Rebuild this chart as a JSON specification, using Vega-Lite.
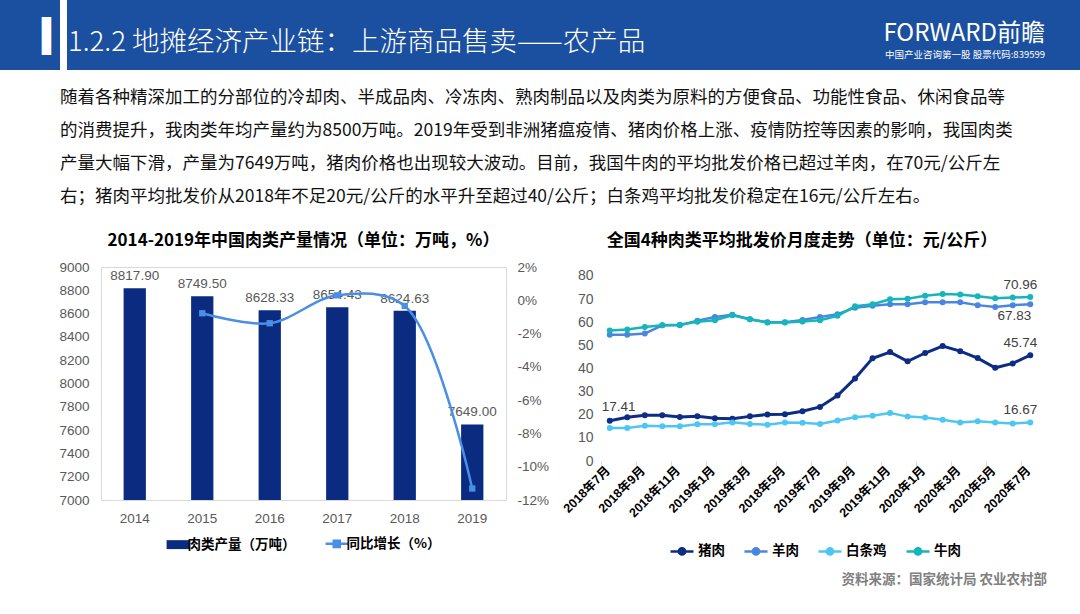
{
  "$schema": "https://vega.github.io/schema/vega-lite/v6.json",
  "padding": 0,
  "background": "white",
  "config": {"view": {"stroke": null}},
  "title": {"text": "资料来源：国家统计局 农业农村部", "orient": "bottom", "anchor": "end", "frame": "bounds", "dx": -40, "offset": 13, "font": "Noto Sans CJK SC", "fontSize": 13.5, "fontWeight": "bold", "color": "#808080"},
  "spacing": 19,
  "vconcat": [
    {
      "spacing": 0,
      "hconcat": [
        {"width": 60, "height": 70, "view": {"fill": "#1b4fa0", "stroke": null},
         "title": {"text": "▍", "anchor": "start", "frame": "group", "dx": 42, "offset": -54, "font": "DejaVu Sans", "fontSize": 32, "color": "white"},
         "data": {"values": [{}]}, "mark": {"type": "point", "opacity": 0, "size": 0}},
        {"width": 740, "height": 70, "view": {"fill": "#1b4fa0", "stroke": null},
         "title": {"text": "1.2.2 地摊经济产业链：上游商品售卖——农产品", "anchor": "start", "frame": "group", "dx": 1, "offset": -56, "font": "Noto Sans CJK SC", "fontSize": 27.5, "fontWeight": 300, "color": "white"},
         "data": {"values": [{}]}, "mark": {"type": "point", "opacity": 0, "size": 0}},
        {"width": 280, "height": 70, "view": {"fill": "#1b4fa0", "stroke": null},
         "title": {"text": "FORWARD前瞻", "subtitle": "中国产业咨询第一股 股票代码:839599", "anchor": "end", "frame": "group", "dx": -42, "offset": -59, "subtitlePadding": 4, "font": "Noto Sans CJK SC", "fontSize": 24, "fontWeight": "normal", "color": "white", "subtitleFont": "Noto Sans CJK SC", "subtitleFontSize": 9.5, "subtitleColor": "white"},
         "data": {"values": [{}]}, "mark": {"type": "point", "opacity": 0, "size": 0}}
      ]
    },
    {
      "spacing": 0,
      "title": {"text": ["随着各种精深加工的分部位的冷却肉、半成品肉、冷冻肉、熟肉制品以及肉类为原料的方便食品、功能性食品、休闲食品等", "的消费提升，我肉类年均产量约为8500万吨。2019年受到非洲猪瘟疫情、猪肉价格上涨、疫情防控等因素的影响，我国肉类", "产量大幅下滑，产量为7649万吨，猪肉价格也出现较大波动。目前，我国牛肉的平均批发价格已超过羊肉，在70元/公斤左", "右；猪肉平均批发价从2018年不足20元/公斤的水平升至超过40/公斤；白条鸡平均批发价稳定在16元/公斤左右。"], "anchor": "start", "frame": "group", "dx": 60, "offset": 26, "font": "Noto Sans CJK SC", "fontSize": 17.5, "fontWeight": "normal", "color": "#111111", "lineHeight": 33},
      "resolve": {"scale": {"color": "independent"}, "legend": {"color": "independent"}},
      "hconcat": [
        {"width": 1, "height": 1, "data": {"values": [{}]}, "mark": {"type": "point", "opacity": 0, "size": 0}},
        {
          "width": 405, "height": 233,
          "view": {"stroke": "#d9d9d9", "fill": null},
          "title": {"text": "2014-2019年中国肉类产量情况（单位：万吨，%）", "anchor": "middle", "frame": "group", "offset": 10, "font": "Noto Sans CJK SC", "fontSize": 17, "fontWeight": "bold", "color": "#000000"},
          "data": {"values": [
            {"year": "2014", "output": 8817.90},
            {"year": "2015", "output": 8749.50, "growth": -0.78},
            {"year": "2016", "output": 8628.33, "growth": -1.38},
            {"year": "2017", "output": 8654.43, "growth": 0.30},
            {"year": "2018", "output": 8624.63, "growth": -0.34},
            {"year": "2019", "output": 7649.00, "growth": -11.31}
          ]},
          "encoding": {"x": {"field": "year", "type": "ordinal", "scale": {"paddingInner": 0.67, "paddingOuter": 0.335},
            "axis": {"title": null, "labelAngle": 0, "ticks": false, "domain": false, "labelFont": "Liberation Sans", "labelFontSize": 13.5, "labelColor": "#595959", "labelPadding": 11}}},
          "layer": [
            {
              "encoding": {"y": {"field": "output", "type": "quantitative", "scale": {"domain": [7000, 9000]},
                "axis": {"title": null, "values": [7000, 7200, 7400, 7600, 7800, 8000, 8200, 8400, 8600, 8800, 9000], "format": "d", "ticks": false, "domain": false, "grid": false, "labelFont": "Liberation Sans", "labelFontSize": 13.5, "labelColor": "#595959", "labelPadding": 12, "minExtent": 99}}},
              "layer": [
                {"mark": {"type": "bar", "color": "#0a2b80"},
                 "encoding": {"y2": {"datum": 7000},
                   "color": {"datum": "肉类产量（万吨）", "scale": {"domain": ["肉类产量（万吨）", "同比增长（%）"], "range": ["#0a2b80", "#4a8ee6"]},
                     "legend": {"orient": "none", "legendX": 70, "legendY": 270, "direction": "horizontal", "columns": 2, "title": null, "padding": 0,
                       "symbolType": "M-1,-0.4H1V0.4H-1Z", "symbolSize": 500, "symbolStrokeWidth": 2,
                       "labelFont": "Noto Sans CJK SC", "labelFontSize": 13.5, "labelFontWeight": "bold", "labelColor": "#000000", "labelOffset": 3, "columnPadding": 24, "labelLimit": 300,
                       "encode": {"symbols": {"update": {
                         "shape": {"signal": "datum.value === '肉类产量（万吨）' ? 'M-1,-0.4H1V0.4H-1Z' : 'M-1,0H1M-0.27,-0.27H0.27V0.27H-0.27Z'"},
                         "fill": {"signal": "datum.value === '肉类产量（万吨）' ? '#0a2b80' : '#4a8ee6'"},
                         "stroke": {"signal": "datum.value === '肉类产量（万吨）' ? '#0a2b80' : '#4a8ee6'"},
                         "strokeWidth": {"signal": "datum.value === '肉类产量（万吨）' ? 0 : 2.5"},
                         "opacity": {"value": 1}}}}}}}},
                {"mark": {"type": "text", "dy": -12, "font": "Liberation Sans", "fontSize": 13.5, "color": "#595959"},
                 "encoding": {"text": {"field": "output", "type": "quantitative", "format": ".2f"}}}
              ]
            },
            {
              "transform": [{"filter": "isValid(datum.growth)"}],
              "encoding": {"y": {"field": "growth", "type": "quantitative", "scale": {"domain": [-12, 2]},
                "axis": {"orient": "right", "title": null, "values": [-12, -10, -8, -6, -4, -2, 0, 2], "labelExpr": "datum.value + '%'", "ticks": false, "domain": false, "grid": false, "labelFont": "Liberation Sans", "labelFontSize": 13.5, "labelColor": "#595959", "labelPadding": 11, "minExtent": 44}}},
              "layer": [
                {"mark": {"type": "line", "interpolate": "catmull-rom", "strokeWidth": 2.5},
                 "encoding": {"color": {"datum": "同比增长（%）"}}},
                {"mark": {"type": "point", "shape": "square", "filled": true, "size": 40, "opacity": 1},
                 "encoding": {"color": {"datum": "同比增长（%）"}}}
              ]
            }
          ],
          "resolve": {"scale": {"y": "independent"}}
        },
        {
          "width": 438, "height": 194,
          "title": {"text": "全国4种肉类平均批发价月度走势（单位：元/公斤）", "anchor": "middle", "frame": "group", "dx": -18, "offset": 17, "font": "Noto Sans CJK SC", "fontSize": 17, "fontWeight": "bold", "color": "#000000"},
          "data": {"values": [
            {"m": "2018年7月", "s": "猪肉", "v": 17.41}, {"m": "2018年8月", "s": "猪肉", "v": 18.9}, {"m": "2018年9月", "s": "猪肉", "v": 19.8}, {"m": "2018年10月", "s": "猪肉", "v": 19.8}, {"m": "2018年11月", "s": "猪肉", "v": 19.0},
            {"m": "2018年12月", "s": "猪肉", "v": 19.3}, {"m": "2019年1月", "s": "猪肉", "v": 18.5}, {"m": "2019年2月", "s": "猪肉", "v": 18.3}, {"m": "2019年3月", "s": "猪肉", "v": 19.3}, {"m": "2019年4月", "s": "猪肉", "v": 20.1},
            {"m": "2019年5月", "s": "猪肉", "v": 20.2}, {"m": "2019年6月", "s": "猪肉", "v": 21.5}, {"m": "2019年7月", "s": "猪肉", "v": 23.4}, {"m": "2019年8月", "s": "猪肉", "v": 28.3}, {"m": "2019年9月", "s": "猪肉", "v": 35.7},
            {"m": "2019年10月", "s": "猪肉", "v": 44.4}, {"m": "2019年11月", "s": "猪肉", "v": 47.1}, {"m": "2019年12月", "s": "猪肉", "v": 43.1}, {"m": "2020年1月", "s": "猪肉", "v": 46.7}, {"m": "2020年2月", "s": "猪肉", "v": 49.7},
            {"m": "2020年3月", "s": "猪肉", "v": 47.5}, {"m": "2020年4月", "s": "猪肉", "v": 44.5}, {"m": "2020年5月", "s": "猪肉", "v": 40.3}, {"m": "2020年6月", "s": "猪肉", "v": 42.2}, {"m": "2020年7月", "s": "猪肉", "v": 45.74},
            {"m": "2018年7月", "s": "羊肉", "v": 54.6}, {"m": "2018年8月", "s": "羊肉", "v": 54.6}, {"m": "2018年9月", "s": "羊肉", "v": 55.1}, {"m": "2018年10月", "s": "羊肉", "v": 58.7}, {"m": "2018年11月", "s": "羊肉", "v": 58.7},
            {"m": "2018年12月", "s": "羊肉", "v": 60.7}, {"m": "2019年1月", "s": "羊肉", "v": 62.3}, {"m": "2019年2月", "s": "羊肉", "v": 63.2}, {"m": "2019年3月", "s": "羊肉", "v": 61.3}, {"m": "2019年4月", "s": "羊肉", "v": 60.0},
            {"m": "2019年5月", "s": "羊肉", "v": 60.0}, {"m": "2019年6月", "s": "羊肉", "v": 61.0}, {"m": "2019年7月", "s": "羊肉", "v": 62.3}, {"m": "2019年8月", "s": "羊肉", "v": 63.5}, {"m": "2019年9月", "s": "羊肉", "v": 66.3},
            {"m": "2019年10月", "s": "羊肉", "v": 67.1}, {"m": "2019年11月", "s": "羊肉", "v": 67.8}, {"m": "2019年12月", "s": "羊肉", "v": 67.8}, {"m": "2020年1月", "s": "羊肉", "v": 68.6}, {"m": "2020年2月", "s": "羊肉", "v": 68.6},
            {"m": "2020年3月", "s": "羊肉", "v": 68.6}, {"m": "2020年4月", "s": "羊肉", "v": 67.4}, {"m": "2020年5月", "s": "羊肉", "v": 66.6}, {"m": "2020年6月", "s": "羊肉", "v": 67.4}, {"m": "2020年7月", "s": "羊肉", "v": 67.83},
            {"m": "2018年7月", "s": "白条鸡", "v": 14.3}, {"m": "2018年8月", "s": "白条鸡", "v": 14.3}, {"m": "2018年9月", "s": "白条鸡", "v": 15.2}, {"m": "2018年10月", "s": "白条鸡", "v": 15.0}, {"m": "2018年11月", "s": "白条鸡", "v": 15.0},
            {"m": "2018年12月", "s": "白条鸡", "v": 15.9}, {"m": "2019年1月", "s": "白条鸡", "v": 15.9}, {"m": "2019年2月", "s": "白条鸡", "v": 16.7}, {"m": "2019年3月", "s": "白条鸡", "v": 16.0}, {"m": "2019年4月", "s": "白条鸡", "v": 15.7},
            {"m": "2019年5月", "s": "白条鸡", "v": 16.6}, {"m": "2019年6月", "s": "白条鸡", "v": 16.5}, {"m": "2019年7月", "s": "白条鸡", "v": 16.0}, {"m": "2019年8月", "s": "白条鸡", "v": 17.5}, {"m": "2019年9月", "s": "白条鸡", "v": 18.9},
            {"m": "2019年10月", "s": "白条鸡", "v": 19.6}, {"m": "2019年11月", "s": "白条鸡", "v": 20.8}, {"m": "2019年12月", "s": "白条鸡", "v": 19.2}, {"m": "2020年1月", "s": "白条鸡", "v": 18.8}, {"m": "2020年2月", "s": "白条鸡", "v": 17.8},
            {"m": "2020年3月", "s": "白条鸡", "v": 16.7}, {"m": "2020年4月", "s": "白条鸡", "v": 17.2}, {"m": "2020年5月", "s": "白条鸡", "v": 16.6}, {"m": "2020年6月", "s": "白条鸡", "v": 16.2}, {"m": "2020年7月", "s": "白条鸡", "v": 16.67},
            {"m": "2018年7月", "s": "牛肉", "v": 56.4}, {"m": "2018年8月", "s": "牛肉", "v": 56.9}, {"m": "2018年9月", "s": "牛肉", "v": 57.9}, {"m": "2018年10月", "s": "牛肉", "v": 58.7}, {"m": "2018年11月", "s": "牛肉", "v": 58.9},
            {"m": "2018年12月", "s": "牛肉", "v": 60.2}, {"m": "2019年1月", "s": "牛肉", "v": 60.9}, {"m": "2019年2月", "s": "牛肉", "v": 63.0}, {"m": "2019年3月", "s": "牛肉", "v": 61.3}, {"m": "2019年4月", "s": "牛肉", "v": 59.9},
            {"m": "2019年5月", "s": "牛肉", "v": 59.9}, {"m": "2019年6月", "s": "牛肉", "v": 60.3}, {"m": "2019年7月", "s": "牛肉", "v": 60.9}, {"m": "2019年8月", "s": "牛肉", "v": 62.8}, {"m": "2019年9月", "s": "牛肉", "v": 66.9},
            {"m": "2019年10月", "s": "牛肉", "v": 67.8}, {"m": "2019年11月", "s": "牛肉", "v": 69.9}, {"m": "2019年12月", "s": "牛肉", "v": 70.2}, {"m": "2020年1月", "s": "牛肉", "v": 71.5}, {"m": "2020年2月", "s": "牛肉", "v": 72.2},
            {"m": "2020年3月", "s": "牛肉", "v": 72.0}, {"m": "2020年4月", "s": "牛肉", "v": 71.2}, {"m": "2020年5月", "s": "牛肉", "v": 70.4}, {"m": "2020年6月", "s": "牛肉", "v": 70.7}, {"m": "2020年7月", "s": "牛肉", "v": 70.96}
          ]},
          "encoding": {
            "y": {"field": "v", "type": "quantitative", "scale": {"domain": [0, 83.89], "nice": false},
              "axis": {"title": null, "values": [0, 10, 20, 30, 40, 50, 60, 70, 80], "ticks": false, "domain": false, "grid": false, "labelFont": "Liberation Sans", "labelFontSize": 14, "labelColor": "#595959", "labelPadding": 8, "minExtent": 50}}
          },
          "layer": [
            {"data": {"values": [{}]},
             "mark": {"type": "rect", "fill": null, "stroke": "#d9d9d9", "strokeWidth": 1},
             "encoding": {"y": {"datum": 80}, "y2": {"datum": 0}}},
            {"mark": {"type": "line"},
             "encoding": {
               "x": {"field": "m", "type": "ordinal", "sort": null, "scale": {"type": "point", "padding": 0.5},
                 "axis": {"title": null, "values": ["2018年7月", "2018年9月", "2018年11月", "2019年1月", "2019年3月", "2019年5月", "2019年7月", "2019年9月", "2019年11月", "2020年1月", "2020年3月", "2020年5月", "2020年7月"],
                   "labelExpr": "datum.value === '2019年5月' ? '2018年5月' : datum.value",
                   "labelAngle": -45, "labelAlign": "right", "labelBaseline": "middle", "labelFont": "Liberation Sans, Noto Sans CJK SC", "labelFontSize": 12.5, "labelFontWeight": "bold", "labelColor": "#000000",
                   "domain": false, "ticks": true, "tickColor": "#d9d9d9", "tickSize": 5, "tickOffset": -8.76, "labelOffset": 6.5, "labelPadding": 2, "labelOverlap": false}},
               "strokeWidth": {"condition": {"test": "datum.s === '猪肉'", "value": 3}, "value": 2.5},
               "color": {"field": "s", "type": "nominal", "sort": null,
               "scale": {"domain": ["猪肉", "羊肉", "白条鸡", "牛肉"], "range": ["#0c2d83", "#4a86e0", "#4ec6f4", "#14b5bb"]},
               "legend": {"orient": "none", "legendX": 68, "legendY": 271, "direction": "horizontal", "columns": 4, "title": null, "padding": 0,
                 "symbolType": "M-1,0H1M0.27,0A0.27,0.27 0 1,1 -0.27,0A0.27,0.27 0 1,1 0.27,0Z", "symbolSize": 529, "symbolStrokeWidth": 2.5,
                 "labelFont": "Noto Sans CJK SC", "labelFontSize": 13.5, "labelFontWeight": "bold", "labelColor": "#000000", "labelOffset": 3, "columnPadding": 14,
                 "encode": {"symbols": {"update": {
                   "fill": {"signal": "datum.value === '猪肉' ? '#0c2d83' : datum.value === '羊肉' ? '#4a86e0' : datum.value === '白条鸡' ? '#4ec6f4' : '#14b5bb'"},
                   "stroke": {"signal": "datum.value === '猪肉' ? '#0c2d83' : datum.value === '羊肉' ? '#4a86e0' : datum.value === '白条鸡' ? '#4ec6f4' : '#14b5bb'"},
                   "strokeWidth": {"value": 2.5},
                   "opacity": {"value": 1}}}}}}}},
            {"mark": {"type": "point", "filled": true, "size": 36, "opacity": 1},
             "encoding": {"x": {"field": "m", "type": "ordinal", "sort": null}, "color": {"field": "s", "type": "nominal", "sort": null}}},
            {"transform": [{"filter": "datum.m === '2020年7月' && datum.s !== '羊肉'"}],
             "mark": {"type": "text", "align": "right", "dx": 7, "dy": -12, "font": "Liberation Sans", "fontSize": 13.5, "color": "#404040"},
             "encoding": {"x": {"field": "m", "type": "ordinal", "sort": null}, "text": {"field": "v", "type": "quantitative", "format": ".2f"}}},
            {"transform": [{"filter": "datum.m === '2020年7月' && datum.s === '羊肉'"}],
             "mark": {"type": "text", "align": "right", "dx": 1, "dy": 12, "font": "Liberation Sans", "fontSize": 13.5, "color": "#404040"},
             "encoding": {"x": {"field": "m", "type": "ordinal", "sort": null}, "text": {"field": "v", "type": "quantitative", "format": ".2f"}}},
            {"transform": [{"filter": "datum.m === '2018年7月' && datum.s === '猪肉'"}],
             "mark": {"type": "text", "align": "left", "dx": -8, "dy": -14, "font": "Liberation Sans", "fontSize": 13.5, "color": "#404040"},
             "encoding": {"x": {"field": "m", "type": "ordinal", "sort": null}, "text": {"field": "v", "type": "quantitative", "format": ".2f"}}}
          ]
        }
      ]
    }
  ]
}
